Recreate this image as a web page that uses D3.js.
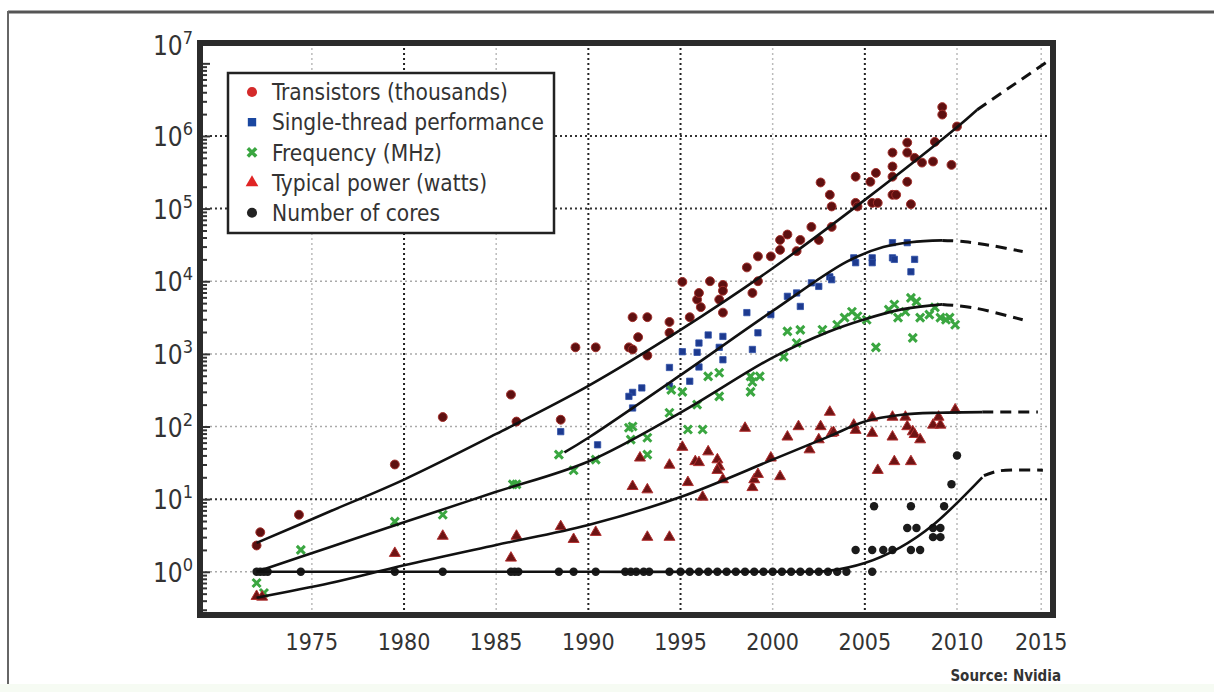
<!DOCTYPE html>
<html lang="en">
<head>
<meta charset="utf-8">
<title>Transistors, performance, frequency, power and cores</title>
<script src="https://cdn.jsdelivr.net/npm/d3@7/dist/d3.min.js"></script>
<style>
body, html { margin: 0; padding: 0; background: #fff; }
svg text { font-family: "Liberation Sans Narrow", "DejaVu Sans Condensed", "Open Sans", sans-serif; fill: #333; }
</style>
</head>
<body>
<script>
// ---- data: [year, value] ----
const transistors = [
  [1972.0,2.3],[1972.2,3.5],[1974.3,6.1],[1979.5,30],[1982.1,135],[1985.8,275],[1986.1,117],[1988.5,124],
  [1989.3,1230],[1990.4,1230],[1992.2,1230],[1992.4,1150],[1992.4,3200],[1993.2,3200],[1992.7,1700],[1993.2,950],
  [1994.4,2750],[1994.4,1950],[1995.1,9800],[1995.5,3200],[1995.9,5600],[1996.0,6900],[1996.1,4400],[1996.6,10000],
  [1997.3,8900],[1997.3,7400],[1997.3,3700],[1997.1,5600],[1998.6,15500],[1998.9,6900],[1999.2,10000],[1999.2,22000],
  [1999.9,22000],[2000.4,27000],[2000.4,37000],[2000.8,44000],[2001.5,37000],[2001.3,26000],[2002.1,56000],[2002.5,37000],
  [2002.6,229000],[2003.1,155000],[2003.2,107000],[2003.2,56000],[2004.5,275000],[2004.5,120000],[2004.6,107000],
  [2005.3,234000],[2005.6,310000],[2005.4,120000],[2005.7,120000],[2006.5,590000],[2006.5,380000],[2006.5,275000],
  [2006.5,155000],[2006.7,155000],[2007.3,810000],[2007.3,590000],[2007.3,234000],[2007.5,115000],[2007.7,500000],
  [2008.1,430000],[2008.7,445000],[2009.2,2500000],[2009.2,1970000],[2008.8,830000],[2009.7,400000],[2010.0,1350000]
];
const singleThread = [
  [1988.5,85],[1990.5,56],[1992.4,295],[1992.2,260],[1992.9,340],[1992.4,180],[1994.4,650],[1994.4,360],
  [1995.1,1070],[1995.9,1050],[1996.0,1410],[1996.5,1820],[1996.0,660],[1997.3,1740],[1997.3,830],[1995.5,420],
  [1997.1,1230],[1998.6,3700],[1998.9,1150],[1999.2,1950],[1999.9,3470],[2000.8,6200],[2001.3,6900],[2001.5,4500],
  [2002.1,9500],[2002.5,8500],[2003.1,11500],[2003.2,10500],[2004.4,21000],[2004.5,18000],[2005.4,21000],[2005.4,18000],
  [2006.5,34000],[2006.5,21000],[2006.6,20000],[2007.3,34000],[2007.5,13500],[2007.7,20000]
];
const frequency = [
  [1972.0,0.7],[1972.4,0.51],[1974.4,2.0],[1979.5,4.9],[1982.1,6.1],[1985.9,16],[1986.1,16],[1988.4,41],
  [1989.2,25],[1990.4,35],[1992.2,96],[1992.4,100],[1992.3,66],[1993.2,70],[1993.2,41],[1994.4,155],[1994.5,320],
  [1995.1,300],[1995.4,91],[1996.2,91],[1995.9,200],[1996.5,490],[1997.1,550],[1997.1,260],[1998.8,490],
  [1998.9,410],[1998.8,300],[1999.3,490],[2000.8,2040],[2000.6,910],[2001.3,1410],[2001.5,2140],[2002.7,2150],
  [2003.5,2520],[2003.9,3160],[2004.3,3800],[2004.6,3300],[2005.1,2950],[2005.6,1230],[2006.3,4070],[2006.6,4780],
  [2006.8,3160],[2007.2,3800],[2007.5,5900],[2007.6,1660],[2007.8,5250],[2008.0,3160],[2008.5,3470],[2008.8,4360],
  [2009.1,3160],[2009.4,2950],[2009.6,3160],[2009.9,2520]
];
const power = [
  [1972.0,0.46],[1972.3,0.45],[1979.5,1.8],[1982.1,3.1],[1985.8,1.55],[1986.1,3.1],[1988.5,4.2],[1989.2,2.8],
  [1990.4,3.5],[1992.4,15],[1993.2,13.5],[1993.2,3.0],[1994.4,3.0],[1992.8,37],[1994.4,29.5],[1995.1,52],
  [1995.4,17],[1995.8,33],[1996.0,32],[1996.2,10.7],[1996.5,45],[1997.0,35],[1997.1,28],[1997.3,18.6],[1997.0,25],
  [1998.5,95],[1998.9,14.5],[1999.0,18.6],[1999.2,22],[1999.9,37],[2000.4,20.5],[2000.8,72],[2001.4,100],
  [2002.0,48],[2002.5,66],[2002.6,100],[2003.1,158],[2003.2,81],[2003.3,83],[2004.4,105],[2004.5,89],
  [2005.4,132],[2005.4,81],[2005.7,25],[2006.5,135],[2006.5,72],[2006.6,33],[2007.2,135],[2007.3,100],
  [2007.5,33],[2007.6,85],[2007.7,78],[2008.0,66],[2008.7,105],[2009.1,105],[2009.0,135],[2009.9,170]
];
const cores = [
  [1972.0,1],[1972.2,1],[1972.4,1],[1972.6,1],[1974.4,1],[1979.5,1],[1982.1,1],[1985.8,1],[1986.0,1],[1986.2,1],
  [1988.4,1],[1989.2,1],[1990.4,1],[1992.0,1],[1992.3,1],[1992.6,1],[1993.0,1],[1993.3,1],[1994.4,1],[1995.0,1],
  [1995.5,1],[1996.0,1],[1996.5,1],[1997.0,1],[1997.5,1],[1998.0,1],[1998.5,1],[1999.0,1],[1999.5,1],[2000.0,1],
  [2000.5,1],[2001.0,1],[2001.5,1],[2002.0,1],[2002.5,1],[2003.0,1],[2003.5,1],[2004.0,1],[2005.4,1],
  [2004.5,2],[2005.4,2],[2006.0,2],[2006.5,2],[2007.5,2],[2008.0,2],[2005.5,8],[2007.3,4],[2007.8,4],[2007.5,8],
  [2008.7,4],[2009.1,4],[2008.7,3],[2009.1,3],[2009.3,8],[2009.7,16],[2010.0,40]
];

// trend curves (solid part, then dashed projection)
const transistorTrend = [[1972,2.5],[1976,6.8],[1980,18.6],[1985,79],[1990,363],[1995,2140],[2000,15100],[2005,132000],[2010,1320000],[2011.2,2300000]];
const transistorProj = [[2011.2,2300000],[2015.35,10500000]];
const singleTrend = [[1988.7,44],[1990,70],[1995,510],[2000,3900],[2004,18500],[2006,29500],[2007.5,34500],[2009.2,36500]];
const singleProj = [[2009.2,36500],[2010.5,35000],[2012.2,30500],[2013.9,25700]];
const freqTrend = [[1972,1],[1976,2.2],[1980,4.8],[1985,12.6],[1990,33],[1995,155],[2000,890],[2003,2000],[2005,3000],[2007,4100],[2009.2,4800]];
const freqProj = [[2009.2,4800],[2011,4300],[2013.9,2950]];
const powerTrend = [[1972,0.44],[1976,0.7],[1980,1.23],[1985,2.34],[1990,4.4],[1995,10.7],[2000,35],[2003,72],[2005,117],[2007,145],[2009,155],[2011.5,158]];
const powerProj = [[2011.5,158],[2014.8,158]];
const coresTrend = [[1972,1],[1990,1],[2001,1],[2003,1.03],[2005,1.32],[2006.9,2.15],[2008.7,4.4],[2011.5,20]];
const coresProj = [[2011.6,21],[2012.5,24.5],[2015.1,25]];

const xTicks = [1975, 1980, 1985, 1990, 1995, 2000, 2005, 2010, 2015];
const xDarkGrid = [1980, 1990, 1995, 2005];
const yExps = [0, 1, 2, 3, 4, 5, 6];
const yDarkGrid = [1, 5, 6];
const legendLabels = ["Transistors (thousands)", "Single-thread performance", "Frequency (MHz)", "Typical power (watts)", "Number of cores"];

// ---- layout ----
const w = 1214, h = 692;
const plot = {left: 200, top: 43, right: 1053, bottom: 615};

const svg = d3.select("body").append("svg")
  .attr("width", w).attr("height", h);

// outer frame of the figure
svg.append("rect").attr("x", 0).attr("y", 684).attr("width", w).attr("height", 8).attr("fill", "#f6fbf3");
svg.append("line").attr("x1", 8).attr("x2", w).attr("y1", 12).attr("y2", 12).attr("stroke", "#555").attr("stroke-width", 3);
svg.append("line").attr("x1", 8).attr("x2", 8).attr("y1", 11).attr("y2", 684).attr("stroke", "#666").attr("stroke-width", 2);

// the x axis is a little squeezed after 2010 in the original, so piecewise
const x = d3.scaleLinear().domain([1968.93, 2010, 2015.7]).range([plot.left, 957, plot.right]);
const y = d3.scaleLog().domain([Math.pow(10, -0.595), Math.pow(10, 7.28)]).range([plot.bottom, plot.top]);

// grid
const grid = svg.append("g");
grid.selectAll("line.vx").data(xTicks).enter().append("line")
  .attr("x1", d => x(d)).attr("x2", d => x(d))
  .attr("y1", plot.top).attr("y2", plot.bottom)
  .attr("stroke", d => xDarkGrid.includes(d) ? "#222" : "#bbb")
  .attr("stroke-width", d => xDarkGrid.includes(d) ? 2 : 1.5)
  .attr("stroke-dasharray", "2,3");
grid.selectAll("line.hy").data(yExps).enter().append("line")
  .attr("x1", plot.left).attr("x2", plot.right)
  .attr("y1", d => y(Math.pow(10, d))).attr("y2", d => y(Math.pow(10, d)))
  .attr("stroke", d => yDarkGrid.includes(d) ? "#333" : "#aaa")
  .attr("stroke-width", d => yDarkGrid.includes(d) ? 2 : 1.5)
  .attr("stroke-dasharray", "2,3");

// minor ticks on the left axis, pointing into the plot
const minor = [];
for (let k = -1; k <= 7; k++) {
  for (let m = 1; m <= 9; m++) {
    const v = m * Math.pow(10, k);
    if (v >= y.domain()[0] && v <= y.domain()[1]) minor.push(v);
  }
}
const yAxis = d3.axisLeft(y).tickValues(minor).tickSize(-7).tickFormat("");
svg.append("g").attr("transform", `translate(${plot.left},0)`).call(yAxis)
  .call(g => g.select(".domain").remove())
  .call(g => g.selectAll(".tick line").attr("stroke", "#333").attr("stroke-width", 2)
    .attr("x2", d => Math.abs(Math.log10(d) - Math.round(Math.log10(d))) < 1e-9 ? 10 : 7));

// y labels 10^n
const ylab = svg.append("g");
const yLabelPos = yExps.map(e => ({e: e, py: y(Math.pow(10, e))}));
yLabelPos.push({e: 7, py: plot.top + 2});   // the original puts 10^7 at the top corner
yLabelPos.forEach(d => {
  const t = ylab.append("text").attr("x", 193).attr("y", d.py + 10)
    .attr("text-anchor", "end").style("font-size", "26px");
  t.append("tspan").text("10");
  t.append("tspan").attr("dy", -11).style("font-size", "18px").text(d.e);
});

// x labels
svg.append("g").selectAll("text").data(xTicks).enter().append("text")
  .attr("x", d => x(d)).attr("y", 650)
  .attr("text-anchor", "middle").style("font-size", "23px")
  .text(d => d);

svg.append("text").attr("x", 1061).attr("y", 681).attr("text-anchor", "end")
  .style("font-size", "15px").style("font-weight", "bold").text("Source: Nvidia");

// legend
const lg = svg.append("g");
lg.append("rect").attr("x", 228).attr("y", 73).attr("width", 326).attr("height", 160)
  .attr("fill", "#fff").attr("stroke", "#222").attr("stroke-width", 2.5);

// custom x mark
const timesMark = {
  draw(ctx, size) {
    const r = Math.sqrt(size) * 0.5;
    ctx.moveTo(-r, -r); ctx.lineTo(r, r);
    ctx.moveTo(-r, r); ctx.lineTo(r, -r);
  }
};

const legendSym = [
  {type: d3.symbolCircle, size: 80, fill: "#d42a2a", stroke: "none"},
  {type: d3.symbolSquare, size: 70, fill: "#1a47a0", stroke: "none"},
  {type: timesMark, size: 70, fill: "none", stroke: "#3aa640"},
  {type: d3.symbolTriangle, size: 70, fill: "#e02424", stroke: "none"},
  {type: d3.symbolCircle, size: 80, fill: "#222", stroke: "none"}
];
legendLabels.forEach((lab, i) => {
  const ly = 92 + i * 30.2;
  const s = legendSym[i];
  lg.append("path").attr("transform", `translate(252,${ly})`)
    .attr("d", d3.symbol().type(s.type).size(s.size))
    .attr("fill", s.fill).attr("stroke", s.stroke).attr("stroke-width", 3.5);
  lg.append("text").attr("x", 272).attr("y", ly).attr("dy", "0.36em")
    .style("font-size", "22.5px").text(lab);
});

// points
const pts = svg.append("g");
function drawPoints(data, type, size, fill, stroke, sw) {
  pts.append("g").selectAll("path").data(data).enter().append("path")
    .attr("transform", d => `translate(${x(d[0])},${y(d[1])})`)
    .attr("d", d3.symbol().type(type).size(size))
    .attr("fill", fill).attr("stroke", stroke).attr("stroke-width", sw);
}
drawPoints(transistors, d3.symbolCircle, 62, "#5e1010", "#a3302c", 1);
drawPoints(singleThread, d3.symbolSquare, 40, "#1d3a8f", "#3050a8", 0.8);
drawPoints(frequency, timesMark, 64, "none", "#3aa640", 3);
drawPoints(power, d3.symbolTriangle, 52, "#6e1414", "#b23030", 1);
drawPoints(cores, d3.symbolCircle, 56, "#1b1b1b", "none", 0);

// trend lines
const line = d3.line().x(d => x(d[0])).y(d => y(d[1])).curve(d3.curveCatmullRom.alpha(0.5));
const lines = svg.append("g").attr("fill", "none").attr("stroke", "#111");
[transistorTrend, singleTrend, freqTrend, powerTrend, coresTrend].forEach(s => {
  lines.append("path").attr("d", line(s)).attr("stroke-width", 2.6);
});
[transistorProj, singleProj, freqProj, powerProj, coresProj].forEach(s => {
  lines.append("path").attr("d", line(s)).attr("stroke-width", 3).attr("stroke-dasharray", "11,7");
});

// plot frame
svg.append("rect").attr("x", plot.left).attr("y", plot.top)
  .attr("width", plot.right - plot.left).attr("height", plot.bottom - plot.top)
  .attr("fill", "none").attr("stroke", "#2b2b2b").attr("stroke-width", 6);
</script>
</body>
</html>
